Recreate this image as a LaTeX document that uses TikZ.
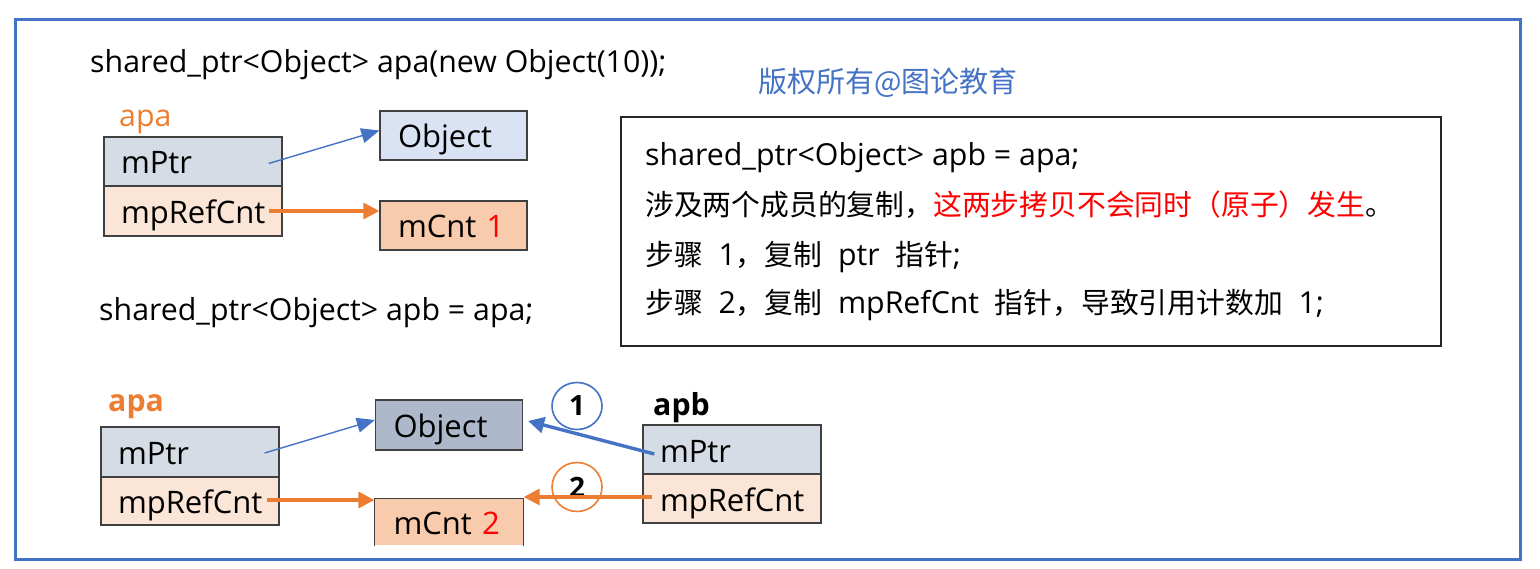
\documentclass[tikz,border=0pt]{standalone}
\usepackage{fontspec}
\setmainfont{Open Sans}
\newfontfamily\cjk{Noto Sans CJK SC}
\usetikzlibrary{arrows.meta,calc,shapes.geometric}
\definecolor{pblue}{HTML}{4472C4}
\definecolor{porange}{HTML}{ED7D31}
\definecolor{cptr}{HTML}{D6DCE5}
\definecolor{cref}{HTML}{FBE5D6}
\definecolor{cobj}{HTML}{DAE3F3}
\definecolor{cobjdark}{HTML}{ADB9CA}
\definecolor{ccnt}{HTML}{F8CBAD}
\definecolor{boxline}{HTML}{404040}
\definecolor{pred}{HTML}{FF0000}
\newcommand{\cj}[1]{{\fontsize{28.8}{35}\selectfont\cjk #1}}
\begin{document}
\begin{tikzpicture}[x=1pt,y=-1pt,
  txt/.style={font=\fontsize{30.3}{36}\selectfont, inner sep=0pt},
  fld/.style={draw=boxline, line width=1.3pt, minimum width=178pt, text width=144pt,
    inner xsep=17pt, inner ysep=0pt, align=left, text height=28pt, text depth=3pt,
    font=\fontsize{31}{36}\selectfont},
  objbox/.style={draw=boxline, line width=1.3pt, minimum width=147pt, text width=111pt,
    inner xsep=18pt, inner ysep=0pt, align=left, text height=28pt, text depth=3pt,
    font=\fontsize{31}{36}\selectfont},
  thinblue/.style={draw=pblue, line width=1.4pt, -{Triangle[length=18pt,width=15pt]}},
  thickblue/.style={draw=pblue, line width=3.4pt, -{Triangle[length=16pt,width=16pt]}},
  orangearrow/.style={draw=porange, line width=3.2pt, -{Triangle[length=16pt,width=16pt]}},
  stepmark/.style={ellipse, line width=1.6pt, minimum width=50pt, minimum height=47pt, inner sep=0pt,
    font=\fontsize{28}{32}\selectfont\bfseries}
]
\useasboundingbox (0,0) rectangle (1540,569);
% outer frame
\draw[draw=pblue, line width=3pt] (15.5,20) rectangle (1520.7,559.7);

% top code line
\node[txt, anchor=base west] (code1) at (90,73) {shared\_ptr<Object> apa(new Object(10));};
% watermark
\node[inner sep=0pt, anchor=base west, text=pblue, font=\fontsize{29}{34}\selectfont\cjk] (wm) at (758,93) {版权所有@图论教育};

% ---- top diagram
\node[txt, anchor=base west, text=porange] (apaA) at (119,127) {apa};
\node[fld, fill=cptr, minimum height=49pt] (aPtr) at (193,161.5) {mPtr};
\node[fld, fill=cref, minimum height=50pt] (aRef) at (193,211) {mpRefCnt};
\node[objbox, fill=cobj, minimum height=49pt] (aObj) at (453.5,135.5) {Object};
\node[objbox, fill=ccnt, minimum height=49pt] (aCnt) at (453.5,225.5) {mCnt \textcolor{pred}{1}};
\coordinate (aPtrS) at ($(aPtr.east)+(-14,2)$);
\coordinate (aObjIn) at ($(aObj.west)+(0,-5)$);
\coordinate (aRefS) at ($(aRef.east)+(-14,0)$);
\draw[thinblue] (aPtrS) -- (aObjIn);
\draw[orangearrow] (aRefS) -- (aRefS -| aCnt.west);

% second code line
\node[txt, anchor=base west] (code2) at (99,321) {shared\_ptr<Object> apb = apa;};

% ---- text box
\node[draw=black!85, line width=1.2pt, minimum width=820pt, minimum height=229pt, inner sep=0pt] (tb) at (1031,231.5) {};
\node[txt, anchor=base west] (l1) at (645,166) {shared\_ptr<Object> apb = apa;};
\node[txt, anchor=base west] (l2) at (645,216) {\cj{涉及两个成员的复制，}\textcolor{pred}{\cj{这两步拷贝不会同时（原子）发生}}\cj{。}};
\node[txt, anchor=base west] (l3) at (645,266) {\cj{步骤}\ \ 1\cj{，复制}\ \ ptr\ \ \cj{指针};};
\node[txt, anchor=base west] (l4) at (645,314) {\cj{步骤}\ \ 2\cj{，复制}\ \ mpRefCnt\ \ \cj{指针，导致引用计数加}\ \ 1;};

% ---- bottom diagram
\node[txt, anchor=base west, text=porange, font=\fontsize{30.3}{36}\selectfont\bfseries] (apaB) at (108,411) {apa};
\node[fld, fill=cptr, minimum height=50pt] (bPtr) at (190,452) {mPtr};
\node[fld, fill=cref, minimum height=48pt] (bRef) at (190,501) {mpRefCnt};
\node[objbox, fill=cobjdark, minimum height=50pt] (bObj) at (449,425) {Object};
\node[objbox, fill=ccnt, draw=none, minimum height=46pt, minimum width=148pt] (bCnt) at (449,522) {mCnt \textcolor{pred}{2}};
\draw[draw=boxline, line width=1.3pt] (bCnt.south west) -- (bCnt.north west) -- (bCnt.north east) -- (bCnt.south east);

\node[txt, anchor=base west, font=\fontsize{30.3}{36}\selectfont\bfseries] (apbC) at (653,415) {apb};
\node[fld, fill=cptr, minimum height=49pt] (cPtr) at (732,449.5) {mPtr};
\node[fld, fill=cref, minimum height=49pt] (cRef) at (732,498.5) {mpRefCnt};

\node[stepmark, draw=pblue] (s1) at (577,406) {1};
\node[stepmark, draw=porange, minimum height=49pt] (s2) at (577,487) {2};

\coordinate (bPtrS) at ($(bPtr.east)+(-15,1)$);
\coordinate (bObjIn) at ($(bObj.west)+(0,-5)$);
\coordinate (bRefS) at ($(bRef.east)+(-13,-1)$);
\coordinate (cPtrS) at ($(cPtr.west)+(12,4.5)$);
\coordinate (bObjIn2) at ($(bObj.east)+(5,-4)$);
\coordinate (cRefS) at ($(cRef.west)+(10,-1.5)$);
\draw[thinblue] (bPtrS) -- (bObjIn);
\draw[orangearrow] (bRefS) -- (bRefS -| bCnt.west);
\draw[thickblue] (cPtrS) -- (bObjIn2);
\draw[orangearrow] (cRefS) -- (cRefS -| bCnt.east);
\end{tikzpicture}
\end{document}
